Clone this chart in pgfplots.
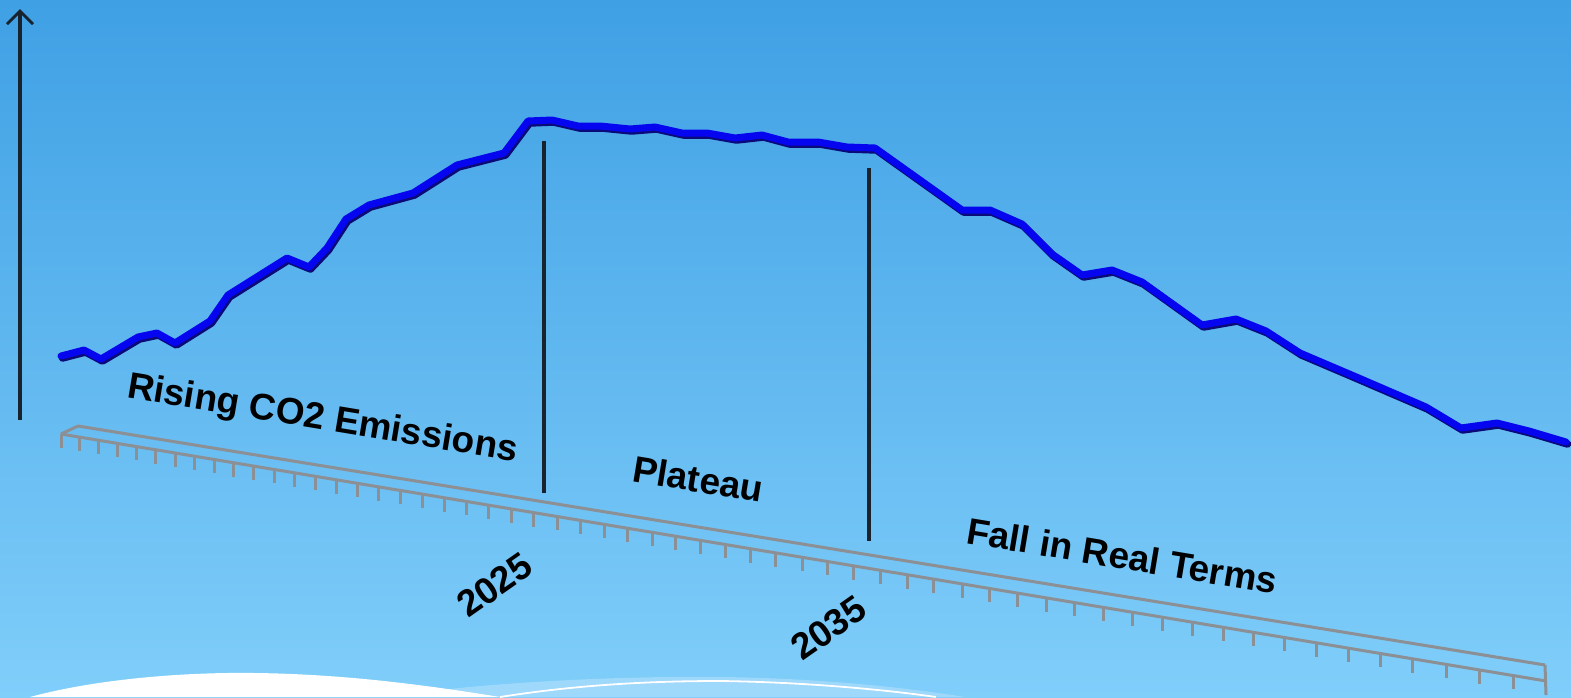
\documentclass[border=0pt]{standalone}
\usepackage{pgfplots}
\pgfplotsset{compat=1.18}
\usepackage{pgfplotstable}
\usepackage{fontspec}
\setmainfont{Liberation Sans}
\usetikzlibrary{arrows.meta}
\definecolor{bgtop}{RGB}{63,160,228}
\definecolor{bgbot}{RGB}{128,206,250}
\definecolor{linecol}{RGB}{5,5,240}
\definecolor{lineshadow}{RGB}{10,10,120}
\definecolor{rulergray}{RGB}{140,143,147}
\definecolor{vline}{RGB}{25,35,45}
\definecolor{band}{RGB}{158,216,250}

% emission curve, read in picture units (x to the right, y downward)
\pgfplotstableread{
x y
61 356
84 350
101 359
138 337
157 333
175 343
210 321
228 295
287 258
309 267
327 248
346 219
369 205
413 193
457 165
504 153
528 121
552 120
578 126
600 126
630 129
655 127
682 133
707 133
735 138
762 135
788 142
818 142
847 147
875 148
962 210
990 210
1022 224
1052 254
1082 275
1112 270
1142 282
1202 325
1236 319
1266 331
1300 353
1354 376
1426 407
1461 428
1497 423
1529 431
1566 442
}\emissions

\begin{document}
\begin{tikzpicture}
\begin{axis}[
  scale only axis, width=1571pt, height=697pt,
  xmin=0, xmax=1571, ymin=0, ymax=697, y dir=reverse,
  hide axis, clip=true,
]
% background
\fill[top color=bgtop, bottom color=bgbot] (0,0) rectangle (1571,697);
% bottom swoosh decoration
\fill[band] (440,690) .. controls (530,680) and (640,676) .. (720,677)
   .. controls (820,678) and (910,688) .. (965,697) -- (440,697) -- cycle;
\draw[white, line width=1.8pt] (500,697) .. controls (570,686) and (640,681) .. (720,681)
   .. controls (800,682) and (880,689) .. (936,697);
\fill[white] (30,697) .. controls (100,678) and (190,672) .. (255,673)
   .. controls (340,674) and (420,684) .. (500,697) -- cycle;

% y arrow
\draw[vline, line width=3.2pt, -{Straight Barb[length=13pt,width=26pt,line width=3pt]}] (20,420) -- (20,9);

% ruler
\draw[rulergray, line width=3pt] (78,426) -- (1545,665);
\draw[rulergray, line width=3pt] (61,434) -- (1546,681);
\draw[rulergray, line width=3pt] (61,434) -- (78,426);
\draw[rulergray, line width=3pt] (1545,665) -- (1546,695);
\pgfplotsinvokeforeach{61,79,98,117,136,155,175,194,214,233,253,274,294,315,336,357,378,400,422,444,466,488,511,533,557,580,604,627,652,675,700,725,750,775,802,827,853,880,907,933,962,989,1017,1046,1074,1103,1132,1162,1192,1223,1253,1284,1316,1348,1380,1412,1446,1479,1513}{
  \draw[rulergray, line width=3pt] (#1,{434+(#1-61)*0.1663}) -- (#1,{448+(#1-61)*0.1663});
}

% phase separators
\draw[vline, line width=3.2pt] (544,141) -- (544,493);
\draw[vline, line width=3.2pt] (869,168) -- (869,541);

% emissions line
\addplot[lineshadow, line width=7.5pt, line join=round, line cap=round, xshift=1.5pt, yshift=-2pt] table {\emissions};
\addplot[linecol, line width=7pt, line join=round, line cap=round] table {\emissions};

% labels
\node[anchor=base west, inner sep=0pt, rotate=-9.4, font=\bfseries\fontsize{37}{40}\selectfont] at (126,397) {Rising CO2 Emissions};
\node[anchor=base west, inner sep=0pt, rotate=-9.4, font=\bfseries\fontsize{37}{40}\selectfont] at (631,481) {Plateau};
\node[anchor=base west, inner sep=0pt, rotate=-9.4, font=\bfseries\fontsize{37}{40}\selectfont] at (965,543) {Fall in Real Terms};
\node[anchor=base west, inner sep=0pt, rotate=35, font=\bfseries\fontsize{37}{40}\selectfont] at (468,619) {2025};
\node[anchor=base west, inner sep=0pt, rotate=35, font=\bfseries\fontsize{37}{40}\selectfont] at (802,662) {2035};
\end{axis}
\end{tikzpicture}
\end{document}
